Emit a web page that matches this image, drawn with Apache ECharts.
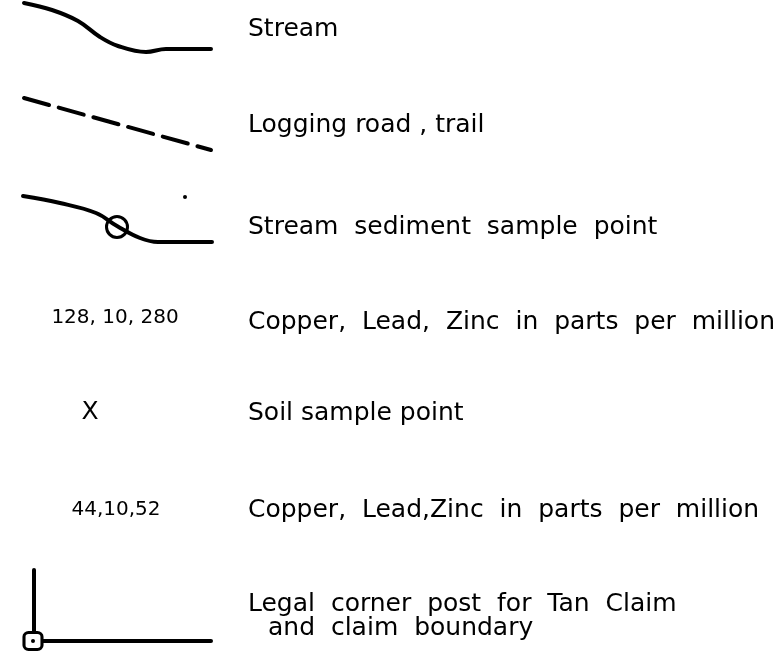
<!DOCTYPE html>
<html>
<head>
<meta charset="utf-8">
<script src="https://cdn.jsdelivr.net/npm/echarts@6/dist/echarts.min.js"></script>
<style>
  html, body { margin: 0; padding: 0; background: #fff; }
  #chart { width: 784px; height: 666px; }
</style>
</head>
<body>
<div id="chart"></div>
<script>
// symbol paths (map units = pixels of the key)
var streamPath = [[24, 3], [52, 10], [78, 21], [100, 37], [118, 46], [146, 52], [166, 49], [211, 49]];
var roadPath = [[24, 98], [211, 150]];
var sedimentPath = [[23, 196], [60, 203], [96, 213], [117, 226], [140, 238], [158, 242], [212, 242]];
var sedimentPoint = [[117, 227]];
var postLine = [[34, 570], [34, 632]];
var boundaryLine = [[43, 641], [211, 641]];
var postPoint = [[33, 641]];
var speck = [[185, 197]];

// key text (lettering uses wide word gaps)
var descriptions = [
  "Stream",
  "Logging road , trail",
  "Stream  sediment  sample  point",
  "Copper,  Lead,  Zinc  in  parts  per  million",
  "Soil sample point",
  "Copper,  Lead,Zinc  in  parts  per  million",
  "Legal  corner  post  for  Tan  Claim",
  "and  claim  boundary"
];
var descRows = [29, 125, 227, 322, 413, 510, 604, 628];
var descCols = [248, 248, 248, 248, 248, 248, 248, 268];
var sampleCodes = ["128, 10, 280", "X", "44,10,52"];
var codeRows = [318, 412, 510];
var codeCols = [115, 90, 116];
var codeSizes = [20, 25, 20];

var ink = "#000";
var font = "DejaVu Sans";

var chart = echarts.init(document.getElementById("chart"));

function lineSeries(pts, extra) {
  var s = {
    type: "line",
    data: pts,
    symbol: "none",
    silent: true,
    lineStyle: { color: ink, width: 4, cap: "round", join: "round" }
  };
  return Object.assign(s, extra || {});
}

var descData = descriptions.map(function (t, i) {
  return { value: [descCols[i], descRows[i]], name: t };
});
var codeData = sampleCodes.map(function (t, i) {
  return { value: [codeCols[i], codeRows[i]], name: t, label: { fontSize: codeSizes[i] } };
});

chart.setOption({
  animation: false,
  grid: { left: 0, right: 0, top: 0, bottom: 0 },
  xAxis: { type: "value", min: 0, max: 784, show: false },
  yAxis: { type: "value", min: 0, max: 666, inverse: true, show: false },
  series: [
    lineSeries(streamPath, { smooth: 0.4 }),
    lineSeries(roadPath, {
      lineStyle: { color: ink, width: 4, cap: "round", type: [26, 10] }
    }),
    lineSeries(sedimentPath, { smooth: 0.4 }),
    lineSeries(postLine),
    lineSeries(boundaryLine),
    {
      type: "scatter",
      data: sedimentPoint,
      symbol: "circle",
      symbolSize: 21,
      silent: true,
      itemStyle: { color: "rgba(0,0,0,0)", borderColor: ink, borderWidth: 3, opacity: 1 }
    },
    {
      type: "scatter",
      data: postPoint,
      symbol: "roundRect",
      symbolSize: [18, 17],
      silent: true,
      itemStyle: { color: "#fff", borderColor: ink, borderWidth: 3, opacity: 1 }
    },
    {
      type: "scatter",
      data: postPoint.concat(speck),
      symbol: "circle",
      symbolSize: 4,
      silent: true,
      itemStyle: { color: ink, opacity: 1 }
    },
    {
      type: "scatter",
      data: descData,
      symbolSize: 0,
      silent: true,
      itemStyle: { opacity: 1 },
      label: {
        show: true,
        position: "right",
        distance: 0,
        formatter: "{b}",
        color: ink,
        fontFamily: font,
        fontSize: 25
      }
    },
    {
      type: "scatter",
      data: codeData,
      symbolSize: 0,
      silent: true,
      itemStyle: { opacity: 1 },
      label: {
        show: true,
        position: "inside",
        formatter: "{b}",
        color: ink,
        fontFamily: font,
        fontSize: 20
      }
    }
  ]
});
</script>
</body>
</html>
